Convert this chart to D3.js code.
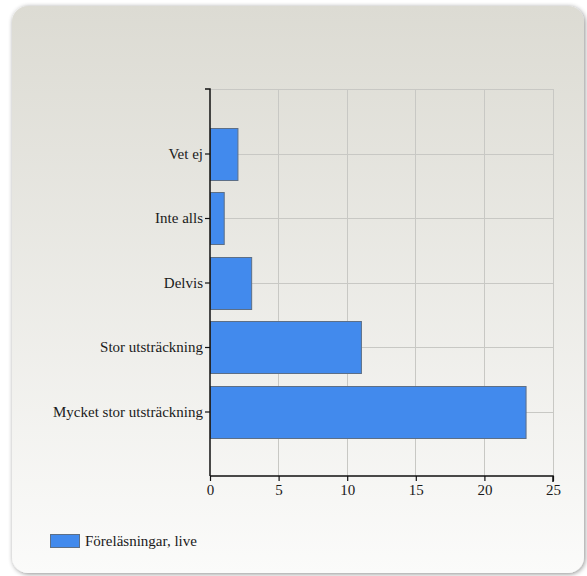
<!DOCTYPE html>
<html><head><meta charset="utf-8">
<script src="https://cdn.jsdelivr.net/npm/d3@7"></script>
<style>html,body{margin:0;padding:0;background:#fff;}svg{display:block;}</style>
</head><body>
<svg id="c" width="587" height="576"></svg>
<script>
const categories = ["Vet ej","Inte alls","Delvis","Stor utsträckning","Mycket stor utsträckning"];
const values = [2,1,3,11,23];
const seriesName = "Föreläsningar, live";
const xTicks = [0,5,10,15,20,25];

const FONT = '"Liberation Serif"';
const FS = "15px";
const svg = d3.select("#c");
const defs = svg.append("defs");
const g1 = defs.append("linearGradient").attr("id","bg").attr("x1",0).attr("y1",0).attr("x2",0).attr("y2",1);
g1.append("stop").attr("offset","0%").attr("stop-color","#dcdbd3");
g1.append("stop").attr("offset","100%").attr("stop-color","#fbfbfa");
const f = defs.append("filter").attr("id","sh").attr("x","-5%").attr("y","-5%").attr("width","110%").attr("height","110%");
f.append("feGaussianBlur").attr("in","SourceAlpha").attr("stdDeviation",2.5);
f.append("feOffset").attr("dx",1).attr("dy",1).attr("result","b");
f.append("feComponentTransfer").append("feFuncA").attr("type","linear").attr("slope",0.45);
const m = f.append("feMerge"); m.append("feMergeNode"); m.append("feMergeNode").attr("in","SourceGraphic");

svg.append("rect").attr("x",12).attr("y",6).attr("width",572).attr("height",567).attr("rx",16)
  .attr("fill","url(#bg)").attr("filter","url(#sh)");

const L=210,R=553,T=89,B=476;
const x = d3.scaleLinear().domain([0,25]).range([L,R]);
const y = d3.scalePoint().domain(categories).range([T,B]).padding(1);
const bh = y.step()*0.8;

// grid
const grid = svg.append("g");
grid.selectAll("line.v").data(xTicks.slice(1)).join("line")
  .attr("x1",d=>x(d)).attr("x2",d=>x(d)).attr("y1",T).attr("y2",B)
  .attr("stroke","#c8c8c4").attr("stroke-width",1).attr("shape-rendering","crispEdges");
grid.selectAll("line.h").data(categories).join("line")
  .attr("x1",L).attr("x2",R).attr("y1",d=>Math.round(y(d))+0.5).attr("y2",d=>Math.round(y(d))+0.5)
  .attr("stroke","#c8c8c4");
grid.append("line").attr("x1",L).attr("x2",R).attr("y1",T+0.5).attr("y2",T+0.5).attr("stroke","#c8c8c4");

// bars
svg.append("g").selectAll("rect").data(categories).join("rect")
  .attr("x",L+0.5).attr("y",d=>Math.round(y(d)-bh/2)+0.5)
  .attr("width",(d,i)=>x(values[i])-L).attr("height",Math.round(bh))
  .attr("fill","#428aed").attr("stroke","#5d6f86").attr("stroke-width",1);

// axes
const xa = svg.append("g").attr("transform",`translate(0,${B})`)
  .call(d3.axisBottom(x).tickValues(xTicks).tickSize(5).tickPadding(3).tickFormat(d3.format("d")));
const ya = svg.append("g").attr("transform",`translate(${L},0)`)
  .call(d3.axisLeft(y).tickSize(5).tickPadding(2));
[xa,ya].forEach(a=>{
  a.select(".domain").attr("stroke","#111").attr("stroke-width",1.5);
  a.selectAll(".tick line").attr("stroke","#111").attr("stroke-width",1.2);
  a.selectAll("text").style("font-family",FONT).style("font-size",FS).attr("fill","#1a1a1a");
});
ya.select(".domain").attr("d",`M-5,${T}H0V${B}`);
xa.select(".domain").attr("d",`M${L},0H${R}V6`);

// legend
svg.append("rect").attr("x",50.5).attr("y",534.5).attr("width",29).attr("height",13)
  .attr("fill","#428aed").attr("stroke","#5d6f86");
svg.append("text").attr("x",85).attr("y",546).style("font-family",FONT).style("font-size",FS)
  .attr("fill","#1a1a1a").text(seriesName);
</script>
</body></html>
